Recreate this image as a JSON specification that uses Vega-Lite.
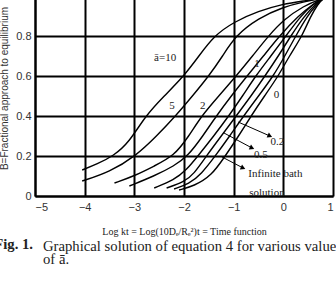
{
  "$schema": "https://vega.github.io/schema/vega-lite/v6.json",
  "autosize": "none",
  "padding": {"left": 35, "top": -4, "right": 3, "bottom": 95},
  "width": 298,
  "height": 200,
  "background": "white",
  "title": {
    "text": ["Graphical solution of equation 4 for various values", "of ā."],
    "orient": "bottom", "anchor": "start", "frame": "group", "dx": 8, "offset": -13,
    "font": "Liberation Serif", "fontSize": 14.7, "fontWeight": "normal", "color": "#222", "lineHeight": 13.5
  },
  "config": {"view": {"stroke": null}},
  "datasets": {
    "curves": [
      {"curve": "10", "x": -4.05, "y": 0.13}, {"curve": "10", "x": -3.75, "y": 0.16}, {"curve": "10", "x": -3.42, "y": 0.2}, {"curve": "10", "x": -3.1, "y": 0.27}, {"curve": "10", "x": -2.78, "y": 0.4}, {"curve": "10", "x": -2.4, "y": 0.5}, {"curve": "10", "x": -2.0, "y": 0.6}, {"curve": "10", "x": -1.7, "y": 0.7}, {"curve": "10", "x": -1.4, "y": 0.8}, {"curve": "10", "x": -1.0, "y": 0.87}, {"curve": "10", "x": -0.5, "y": 0.925}, {"curve": "10", "x": 0.0, "y": 0.96}, {"curve": "10", "x": 0.4, "y": 0.975}, {"curve": "10", "x": 0.8, "y": 0.99}, {"curve": "10", "x": 1.0, "y": 1.0},
      {"curve": "5", "x": -4.05, "y": 0.075}, {"curve": "5", "x": -3.5, "y": 0.12}, {"curve": "5", "x": -2.97, "y": 0.2}, {"curve": "5", "x": -2.55, "y": 0.3}, {"curve": "5", "x": -2.17, "y": 0.4}, {"curve": "5", "x": -1.83, "y": 0.5}, {"curve": "5", "x": -1.5, "y": 0.6}, {"curve": "5", "x": -1.22, "y": 0.7}, {"curve": "5", "x": -0.97, "y": 0.8}, {"curve": "5", "x": -0.5, "y": 0.89}, {"curve": "5", "x": 0.0, "y": 0.945}, {"curve": "5", "x": 0.4, "y": 0.97}, {"curve": "5", "x": 0.8, "y": 0.99}, {"curve": "5", "x": 1.0, "y": 1.0},
      {"curve": "2", "x": -3.4, "y": 0.065}, {"curve": "2", "x": -3.0, "y": 0.1}, {"curve": "2", "x": -2.6, "y": 0.15}, {"curve": "2", "x": -2.2, "y": 0.2}, {"curve": "2", "x": -1.9, "y": 0.3}, {"curve": "2", "x": -1.65, "y": 0.4}, {"curve": "2", "x": -1.3, "y": 0.5}, {"curve": "2", "x": -0.95, "y": 0.6}, {"curve": "2", "x": -0.62, "y": 0.7}, {"curve": "2", "x": -0.3, "y": 0.8}, {"curve": "2", "x": 0.0, "y": 0.88}, {"curve": "2", "x": 0.4, "y": 0.95}, {"curve": "2", "x": 0.8, "y": 0.99}, {"curve": "2", "x": 1.0, "y": 1.0},
      {"curve": "1", "x": -3.1, "y": 0.05}, {"curve": "1", "x": -2.6, "y": 0.1}, {"curve": "1", "x": -2.2, "y": 0.15}, {"curve": "1", "x": -1.92, "y": 0.2}, {"curve": "1", "x": -1.62, "y": 0.3}, {"curve": "1", "x": -1.35, "y": 0.4}, {"curve": "1", "x": -1.05, "y": 0.5}, {"curve": "1", "x": -0.73, "y": 0.6}, {"curve": "1", "x": -0.4, "y": 0.7}, {"curve": "1", "x": -0.08, "y": 0.8}, {"curve": "1", "x": 0.3, "y": 0.9}, {"curve": "1", "x": 0.6, "y": 0.96}, {"curve": "1", "x": 0.8, "y": 0.99}, {"curve": "1", "x": 1.0, "y": 1.0},
      {"curve": "0.5", "x": -2.6, "y": 0.04}, {"curve": "0.5", "x": -2.2, "y": 0.08}, {"curve": "0.5", "x": -1.95, "y": 0.13}, {"curve": "0.5", "x": -1.72, "y": 0.2}, {"curve": "0.5", "x": -1.4, "y": 0.3}, {"curve": "0.5", "x": -1.1, "y": 0.4}, {"curve": "0.5", "x": -0.82, "y": 0.5}, {"curve": "0.5", "x": -0.56, "y": 0.6}, {"curve": "0.5", "x": -0.25, "y": 0.7}, {"curve": "0.5", "x": 0.05, "y": 0.8}, {"curve": "0.5", "x": 0.35, "y": 0.9}, {"curve": "0.5", "x": 0.6, "y": 0.96}, {"curve": "0.5", "x": 0.8, "y": 0.99}, {"curve": "0.5", "x": 1.0, "y": 1.0},
      {"curve": "0.2", "x": -2.35, "y": 0.04}, {"curve": "0.2", "x": -2.0, "y": 0.07}, {"curve": "0.2", "x": -1.8, "y": 0.11}, {"curve": "0.2", "x": -1.55, "y": 0.2}, {"curve": "0.2", "x": -1.25, "y": 0.3}, {"curve": "0.2", "x": -0.95, "y": 0.4}, {"curve": "0.2", "x": -0.65, "y": 0.5}, {"curve": "0.2", "x": -0.37, "y": 0.6}, {"curve": "0.2", "x": -0.1, "y": 0.7}, {"curve": "0.2", "x": 0.15, "y": 0.8}, {"curve": "0.2", "x": 0.42, "y": 0.9}, {"curve": "0.2", "x": 0.65, "y": 0.96}, {"curve": "0.2", "x": 0.8, "y": 0.99}, {"curve": "0.2", "x": 1.0, "y": 1.0},
      {"curve": "0", "x": -2.2, "y": 0.035}, {"curve": "0", "x": -1.9, "y": 0.06}, {"curve": "0", "x": -1.65, "y": 0.11}, {"curve": "0", "x": -1.37, "y": 0.2}, {"curve": "0", "x": -1.08, "y": 0.3}, {"curve": "0", "x": -0.8, "y": 0.4}, {"curve": "0", "x": -0.5, "y": 0.5}, {"curve": "0", "x": -0.2, "y": 0.6}, {"curve": "0", "x": 0.03, "y": 0.7}, {"curve": "0", "x": 0.25, "y": 0.8}, {"curve": "0", "x": 0.48, "y": 0.9}, {"curve": "0", "x": 0.68, "y": 0.96}, {"curve": "0", "x": 0.8, "y": 0.99}, {"curve": "0", "x": 1.0, "y": 1.0},
      {"curve": "inf", "x": -2.1, "y": 0.03}, {"curve": "inf", "x": -1.8, "y": 0.05}, {"curve": "inf", "x": -1.45, "y": 0.1}, {"curve": "inf", "x": -1.17, "y": 0.2}, {"curve": "inf", "x": -0.9, "y": 0.3}, {"curve": "inf", "x": -0.65, "y": 0.4}, {"curve": "inf", "x": -0.38, "y": 0.5}, {"curve": "inf", "x": -0.1, "y": 0.6}, {"curve": "inf", "x": 0.12, "y": 0.7}, {"curve": "inf", "x": 0.38, "y": 0.8}, {"curve": "inf", "x": 0.55, "y": 0.9}, {"curve": "inf", "x": 0.7, "y": 0.96}, {"curve": "inf", "x": 0.8, "y": 0.99}, {"curve": "inf", "x": 1.0, "y": 1.0}
    ],
    "labels": [
      {"label": "ā=10", "x": -2.38, "y": 0.69},
      {"label": "5", "x": -2.24, "y": 0.45},
      {"label": "2", "x": -1.62, "y": 0.45},
      {"label": "1", "x": -0.53, "y": 0.66},
      {"label": "0", "x": -0.14, "y": 0.505},
      {"label": "0.2", "x": -0.12, "y": 0.27},
      {"label": "0.5", "x": -0.45, "y": 0.205},
      {"label": "Infinite  bath", "x": -0.16, "y": 0.11},
      {"label": "solution", "x": -0.33, "y": 0.017}
    ],
    "arrows": [
      {"x": -0.91, "y": 0.37, "x2": -0.27, "y2": 0.3},
      {"x": -1.21, "y": 0.317, "x2": -0.63, "y2": 0.24},
      {"x": -1.24, "y": 0.196, "x2": -0.81, "y2": 0.14}
    ],
    "caption": [
      {"label": "Fig. 1.", "x": -5.82, "y": -0.245}
    ]
  },
  "layer": [
    {
      "data": {"name": "curves"},
      "mark": {"type": "line", "color": "black", "strokeWidth": 1.4, "interpolate": "basis", "clip": true},
      "encoding": {
        "x": {"field": "x", "type": "quantitative", "scale": {"domain": [-5, 1], "nice": false, "zero": false},
          "axis": {"values": [-5, -4, -3, -2, -1, 0, 1], "tickCount": 20, "format": "d", "grid": true, "gridColor": "black", "gridWidth": 2, "gridOpacity": 1,
            "domainColor": "black", "domainWidth": 2, "ticks": false, "labelPadding": 5, "labelOverlap": false,
            "labelFont": "Liberation Sans", "labelFontSize": 11, "labelColor": "#333",
            "title": "Log kt = Log(10Dₑ/Rₑ²)t = Time function", "titleFont": "Liberation Serif", "titleFontSize": 10, "titleFontWeight": "normal", "titleColor": "#222", "titlePadding": 14}},
        "y": {"field": "y", "type": "quantitative", "scale": {"domain": [0, 1], "nice": false},
          "axis": {"values": [0, 0.2, 0.4, 0.6, 0.8, 1.0], "tickCount": 20, "labelExpr": "datum.value == 0 ? '0' : format(datum.value, '.1f')", "grid": true, "gridColor": "black", "gridWidth": 2, "gridOpacity": 1,
            "domainColor": "black", "domainWidth": 2, "ticks": false, "labelPadding": 4, "labelOverlap": false,
            "labelFont": "Liberation Sans", "labelFontSize": 11, "labelColor": "#333",
            "title": "B=Fractional approach to equilibrium", "titleFont": "Liberation Sans", "titleFontSize": 10, "titleFontWeight": "normal", "titleColor": "#333", "titlePadding": 6, "titleY": 92}},
        "detail": {"field": "curve"}
      }
    },
    {
      "data": {"name": "labels"},
      "mark": {"type": "text", "font": "Liberation Serif", "fontSize": 11, "color": "#222", "align": "center", "baseline": "middle"},
      "encoding": {
        "x": {"field": "x", "type": "quantitative"},
        "y": {"field": "y", "type": "quantitative"},
        "text": {"field": "label"}
      }
    },
    {
      "data": {"name": "arrows"},
      "mark": {"type": "rule", "color": "black", "strokeWidth": 1},
      "encoding": {
        "x": {"field": "x", "type": "quantitative"},
        "y": {"field": "y", "type": "quantitative"},
        "x2": {"field": "x2"},
        "y2": {"field": "y2"}
      }
    },
    {
      "data": {"name": "arrows"},
      "mark": {"type": "point", "shape": "triangle-right", "filled": true, "color": "black", "size": 30, "angle": 24, "opacity": 1},
      "encoding": {
        "x": {"field": "x2", "type": "quantitative"},
        "y": {"field": "y2", "type": "quantitative"}
      }
    },
    {
      "data": {"name": "caption"},
      "mark": {"type": "text", "font": "Liberation Serif", "fontSize": 14.7, "fontWeight": "bold", "color": "#222", "align": "left", "baseline": "middle"},
      "encoding": {
        "x": {"field": "x", "type": "quantitative"},
        "y": {"field": "y", "type": "quantitative"},
        "text": {"field": "label"}
      }
    }
  ]
}
